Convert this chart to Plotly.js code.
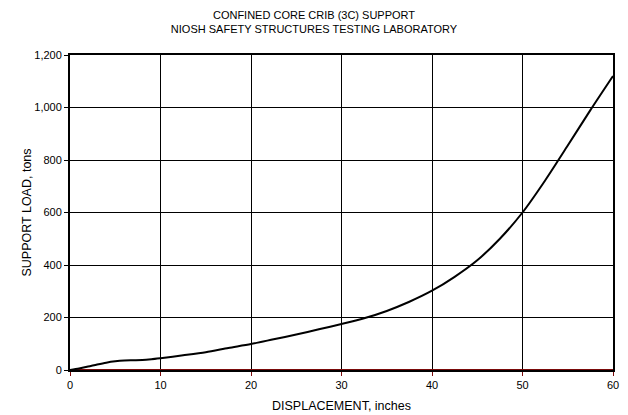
<!DOCTYPE html>
<html>
<head>
<meta charset="utf-8">
<script src="https://cdn.plot.ly/plotly-3.0.1.min.js"></script>
<style>html,body{margin:0;padding:0;background:#fff;}#chart{width:628px;height:415px;}</style>
</head>
<body>
<div id="chart"></div>
<script>
// Load-displacement record of the confined core crib support
const displacement = [0, 1, 2, 3, 4, 5, 6, 7, 8, 9, 10, 12.5, 15, 17.5, 20, 22.5, 25, 27.5, 30, 32.5, 35, 37.5, 40, 42.5, 45, 47.5, 50, 52.5, 55, 57.5, 60];
const supportLoad = [0, 6, 13, 21, 28, 33, 36, 37, 38, 41, 45, 56, 68, 84, 99, 117, 135, 155, 175, 197, 225, 260, 302, 355, 418, 500, 600, 722, 855, 990, 1120];
// Zero reference line along the baseline
const baseX = [0, 60];
const baseY = [0, 0];
const xTicks = [0, 10, 20, 30, 40, 50, 60];
const yTicks = [0, 200, 400, 600, 800, 1000, 1200];

const font = {family: 'Liberation Sans, Arial, sans-serif', color: '#000'};

const traces = [
  {x: baseX, y: baseY, mode: 'lines', line: {color: '#7a0a0a', width: 2}, cliponaxis: false, hoverinfo: 'skip'},
  {x: displacement, y: supportLoad, mode: 'lines', line: {color: '#000', width: 2, shape: 'spline', smoothing: 0.8}, cliponaxis: false}
];

const layout = {
  width: 628, height: 415,
  margin: {l: 70, r: 15, t: 55, b: 45},
  paper_bgcolor: '#fff', plot_bgcolor: '#fff',
  showlegend: false,
  font: Object.assign({size: 11}, font),
  title: {
    text: 'CONFINED CORE CRIB (3C) SUPPORT<br>NIOSH SAFETY STRUCTURES TESTING LABORATORY',
    font: Object.assign({size: 11}, font),
    x: 0.5, xref: 'container', xanchor: 'center',
    y: 0.954, yref: 'container', yanchor: 'middle'
  },
  xaxis: {
    range: [0, 60], tickvals: xTicks, ticktext: xTicks.map(String),
    ticks: 'outside', ticklen: 4, tickcolor: '#7a0a0a', tickwidth: 1,
    showgrid: true, gridcolor: '#000', gridwidth: 1,
    showline: true, linecolor: '#000', linewidth: 2, mirror: true,
    zeroline: false,
    tickfont: Object.assign({size: 11}, font),
    title: {text: 'DISPLACEMENT, inches', font: Object.assign({size: 12.5}, font), standoff: 11}
  },
  yaxis: {
    range: [0, 1200], tickvals: yTicks, ticktext: yTicks.map(v => v.toLocaleString('en-US')),
    ticks: 'outside', ticklen: 4, tickcolor: '#000', tickwidth: 1,
    showgrid: true, gridcolor: '#000', gridwidth: 1,
    showline: true, linecolor: '#000', linewidth: 2, mirror: true,
    zeroline: false,
    tickfont: Object.assign({size: 11}, font),
    title: {text: 'SUPPORT LOAD, tons', font: Object.assign({size: 12.5}, font), standoff: 0}
  }
};

Plotly.newPlot('chart', traces, layout, {staticPlot: true, displayModeBar: false});
</script>
</body>
</html>
